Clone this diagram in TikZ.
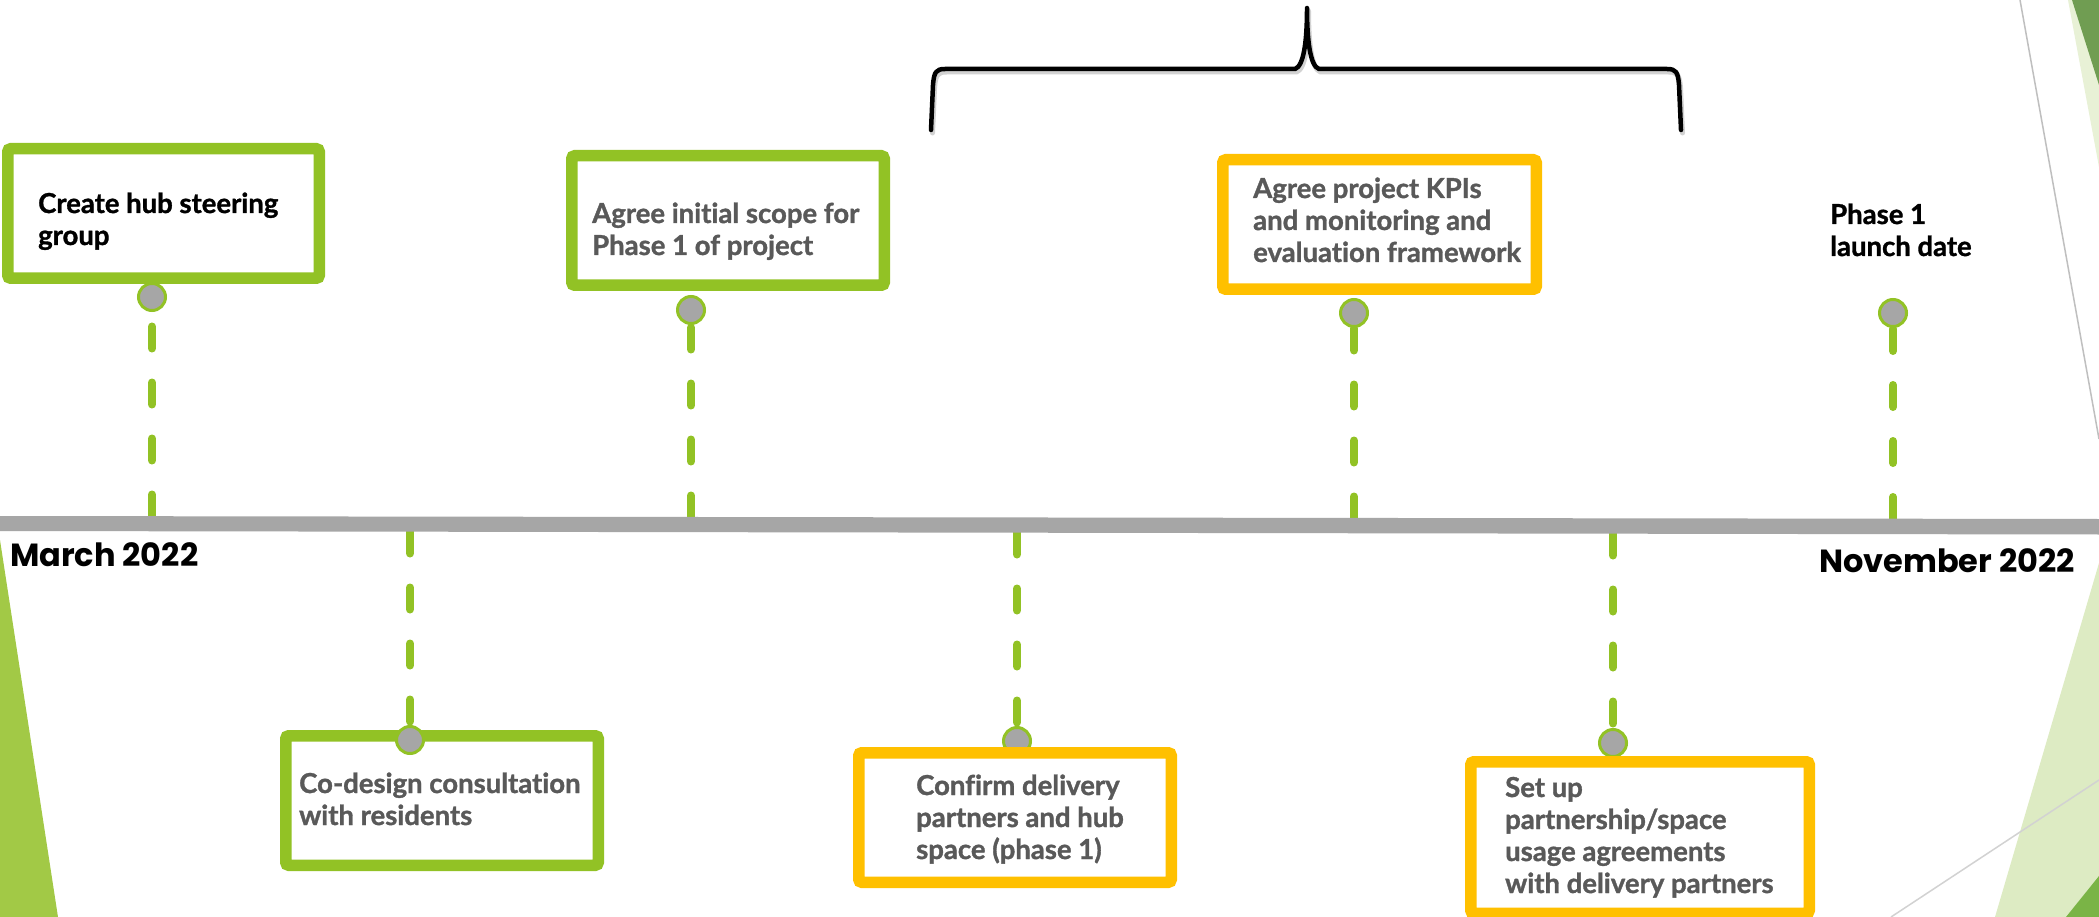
\documentclass[tikz,border=0pt]{standalone}
\usepackage{fontspec}
\setmainfont{Lato}[Ligatures=NoCommon, BoldFeatures={FakeBold=1.2}]
\newfontfamily\datefont{Poppins}
\definecolor{lgreen}{RGB}{146,194,37}
\definecolor{byellow}{RGB}{255,192,0}
\definecolor{bargray}{RGB}{166,166,166}
\definecolor{txtgray}{RGB}{89,89,89}
\definecolor{trigreen}{RGB}{162,201,70}
\definecolor{palegreen}{RGB}{221,235,195}
\definecolor{paleg2}{RGB}{232,241,214}
\definecolor{darkgreen}{RGB}{112,157,82}
\definecolor{midgreen}{RGB}{122,180,70}
\newcommand\lns[1]{\begin{tabular}[t]{@{}l@{}}#1\end{tabular}}
\begin{document}
\begin{tikzpicture}[x=1pt,y=-1pt,
  box/.style={line width=11.5pt, rounded corners=3pt, fill=white, inner sep=0pt},
  gbox/.style={box, draw=lgreen},
  ybox/.style={box, draw=byellow},
  stem/.style={draw=lgreen, line width=8pt, line cap=round, dash pattern=on 22pt off 34pt},
  dot/.style={circle, draw=lgreen, fill=bargray, line width=3pt, minimum size=27pt, inner sep=0pt},
  lbl/.style={anchor=base west, inner sep=0pt, font=\bfseries\fontsize{27.5}{32}\selectfont},
  datelbl/.style={inner sep=0pt, font=\datefont\bfseries\fontsize{32}{38}\selectfont}
]
\useasboundingbox (0,0) rectangle (2099,917);
\fill[white] (0,0) rectangle (2099,917);

% background decorations
\fill[trigreen] (0,540) -- (58,917) -- (0,917) -- cycle;
\fill[palegreen] (2099,563) -- (1995,917) -- (2099,917) -- cycle;
\fill[midgreen] (2099,876) -- (2066,917) -- (2099,917) -- cycle;
\fill[paleg2] (2068,0) -- (2099,0) -- (2099,167) -- cycle;
\fill[darkgreen] (2072,0) -- (2099,0) -- (2099,85) -- cycle;
\draw[gray!50, line width=1.5pt] (2020,0) -- (2099,439);
\draw[gray!35, line width=1.5pt] (1891,917) -- (2099,780);

% brace
\draw[gray!35, line width=5pt, line cap=round, line join=round, shift={(1.5,3)}]
  (931,130) -- (933,85) .. controls (934,72) and (936,69) .. (945,69) -- (1295,69)
  .. controls (1304,66) and (1307,40) .. (1307,8)
  .. controls (1307,40) and (1310,66) .. (1319,69) -- (1667,69)
  .. controls (1676,69) and (1678,72) .. (1679,85) -- (1681,130);
\draw[black, line width=4.5pt, line cap=round, line join=round]
  (931,130) -- (933,85) .. controls (934,72) and (936,69) .. (945,69) -- (1295,69)
  .. controls (1304,66) and (1307,40) .. (1307,8)
  .. controls (1307,40) and (1310,66) .. (1319,69) -- (1667,69)
  .. controls (1676,69) and (1678,72) .. (1679,85) -- (1681,130);

% circle positions
\coordinate (p1) at (152,297);
\coordinate (p2) at (691,310);
\coordinate (p4) at (1354,313);
\coordinate (p7) at (1893,313);
\coordinate (p3) at (410,740);
\coordinate (p5) at (1017,741);
\coordinate (p6) at (1613,743);

% bar anchor points
\coordinate (s1) at (152,516.5);
\coordinate (s2) at (691,517.5);
\coordinate (s4) at (1354,518.5);
\coordinate (s7) at (1893,519);
\coordinate (s3) at (410,531.5);
\coordinate (s5) at (1017,532.5);
\coordinate (s6) at (1613,533.5);

% stems
\draw[stem] (s1) -- ([yshift=-14pt]p1);
\draw[stem] (s2) -- ([yshift=-14pt]p2);
\draw[stem] (s4) -- ([yshift=-14pt]p4);
\draw[stem] (s7) -- ([yshift=-14pt]p7);
\draw[stem] (s3) -- ([yshift=14pt]p3);
\draw[stem] (s5) -- ([yshift=14pt]p5);
\draw[stem] (s6) -- ([yshift=14pt]p6);

% timeline bar
\fill[bargray] (0,516) -- (2099,519) -- (2099,534.5) -- (0,531) -- cycle;

% circles partly behind boxes
\node[dot] (c5) at (p5) {};
\node[dot] (c6) at (p6) {};

% boxes
\node[gbox, minimum width=311.5pt, minimum height=129.5pt] (b1) at (163.5,213.5) {};
\node[gbox, minimum width=312.5pt, minimum height=129.5pt] (b2) at (728,220.5) {};
\node[gbox, minimum width=312.5pt, minimum height=129.5pt] (b3) at (442,800.5) {};
\node[ybox, minimum width=313.5pt, minimum height=129.5pt] (b4) at (1379.5,224.5) {};
\node[ybox, minimum width=312.5pt, minimum height=129.5pt] (b5) at (1015,817.5) {};
\node[ybox, minimum width=338.5pt, minimum height=151.5pt] (b6) at (1640,837.5) {};

% circles on top
\node[dot] (c1) at (p1) {};
\node[dot] (c2) at (p2) {};
\node[dot] (c4) at (p4) {};
\node[dot] (c7) at (p7) {};
\node[dot] (c3) at (p3) {};

% texts
\node[lbl, text=black] (t1) at (38,213) {\lns{Create hub steering\\group}};
\node[lbl, text=txtgray] (t2) at (592,223) {\lns{Agree initial scope for\\Phase 1 of project}};
\node[lbl, text=txtgray] (t3) at (299,793) {\lns{Co-design consultation\\with residents}};
\node[lbl, text=txtgray] (t4) at (1253,198) {\lns{Agree project KPIs\\and monitoring and\\evaluation framework}};
\node[lbl, text=txtgray] (t5) at (916,795) {\lns{Confirm delivery\\partners and hub\\space (phase 1)}};
\node[lbl, text=txtgray] (t6) at (1505,797) {\lns{Set up\\partnership/space\\usage agreements\\with delivery partners}};
\node[lbl, text=black] (t7) at (1830,224) {\lns{Phase 1\\launch date}};

\node[datelbl, anchor=base west] (d1) at (10,566) {March 2022};
\node[datelbl, anchor=base east] (d2) at (2075,572) {November 2022};
\end{tikzpicture}
\end{document}
